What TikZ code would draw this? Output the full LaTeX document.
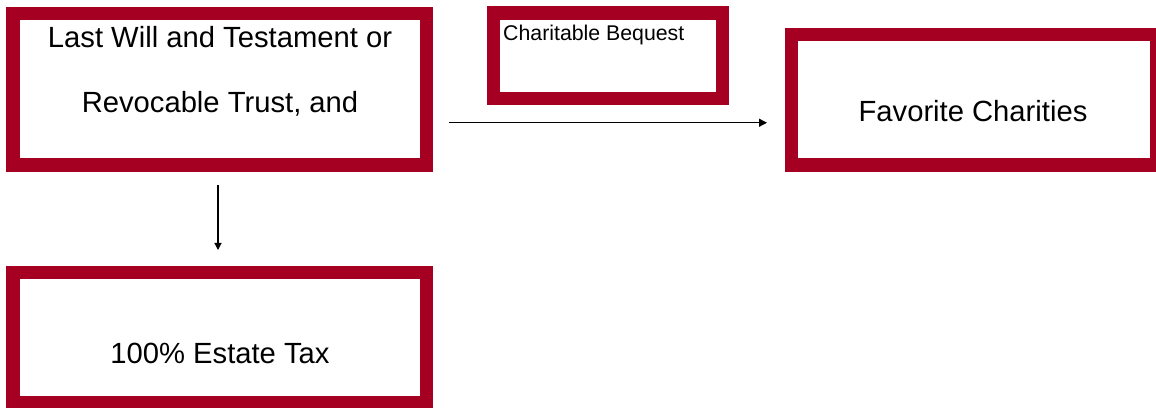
\documentclass[tikz,border=0pt]{standalone}
\usepackage{fontspec}
\setmainfont{Liberation Sans}
\usepackage{xcolor}
\usepackage{tikz}
\usetikzlibrary{calc,arrows.meta}
\definecolor{wine}{HTML}{A50021}
\definecolor{ink}{HTML}{000000}
\tikzset{
  redbox/.style={draw=wine, line width=13.5pt, fill=white, inner sep=0pt, outer sep=0pt},
  bigtxt/.style={text=ink, inner sep=0pt, font=\fontsize{29.2}{64.5}\selectfont},
  smalltxt/.style={text=ink, inner sep=0pt, font=\fontsize{21.3}{25}\selectfont},
  arrow/.style={draw=ink, line width=1.3pt, -{Triangle[length=8pt,width=8pt]}}
}

\begin{document}
\begin{tikzpicture}[x=1pt, y=1pt]
  \useasboundingbox (0,0) rectangle (1156,407);

  \node[redbox, minimum width=413.5pt, minimum height=151.5pt] (will) at (219.5,317.75) {};
  \node[redbox, minimum width=229pt, minimum height=85.5pt] (bequest) at (608,351.25) {};
  \node[redbox, minimum width=365pt, minimum height=130.5pt] (fav) at (974,307.25) {};
  \node[redbox, minimum width=413.5pt, minimum height=130pt] (tax) at (219.5,69.5) {};

  \node[bigtxt, align=center, anchor=north] (willtxt) at (220,380.5)
    {Last Will and Testament or\\Revocable Trust, and};
  \node[smalltxt, anchor=base west] (bequesttxt) at (503,366) {Charitable Bequest};
  \node[bigtxt, anchor=base] (favtxt) at (973,285) {Favorite Charities};
  \node[bigtxt, anchor=base] (taxtxt) at (220,44) {100\% Estate Tax};

  \draw[arrow, shorten <=22.75pt, shorten >=24.5pt]
    ([yshift=-33.5pt]will.east) -- ([yshift=-33.5pt]will.east -| fav.west);
  \draw[arrow, line width=1.2pt, -{Triangle[length=7pt,width=7pt]}, shorten <=20pt, shorten >=22.5pt]
    ([xshift=-1.5pt]will.south) -- ([xshift=-1.5pt]tax.north);
\end{tikzpicture}
\end{document}
